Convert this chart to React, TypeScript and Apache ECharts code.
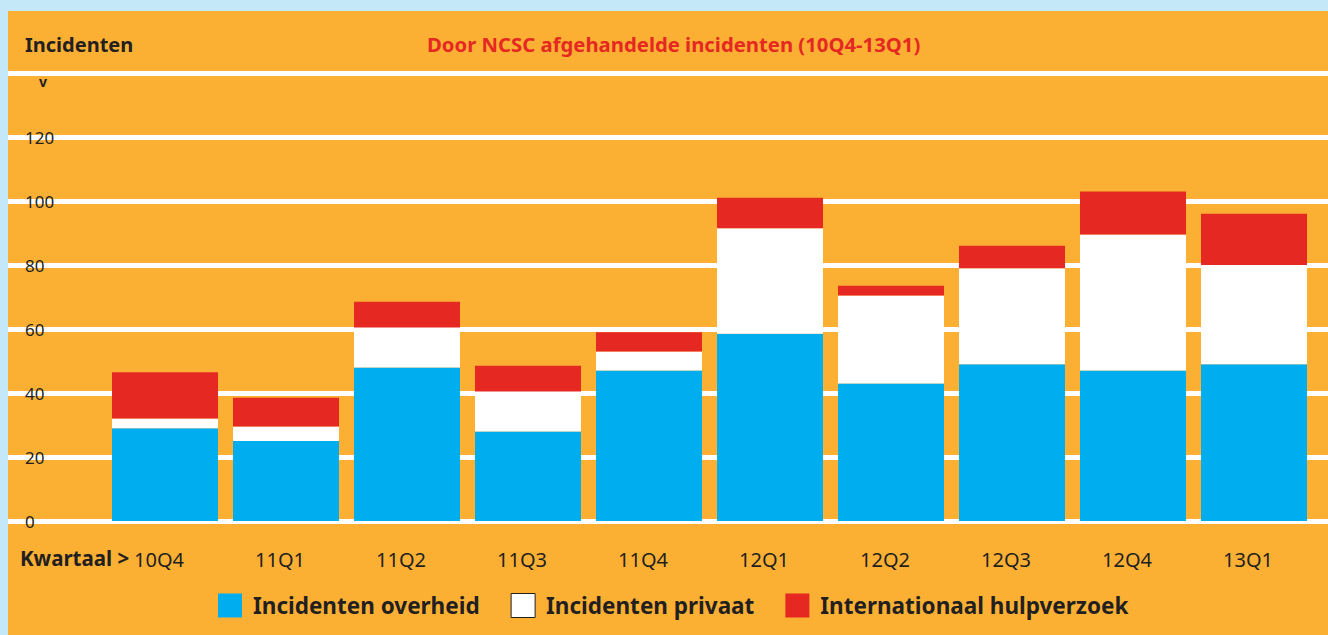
import React, { useEffect, useRef } from "react";
import * as echarts from "echarts";

const categories = ["10Q4", "11Q1", "11Q2", "11Q3", "11Q4", "12Q1", "12Q2", "12Q3", "12Q4", "13Q1"];
const overheid = [29, 25, 48, 28, 47, 58.5, 43, 49, 47, 49];
const privaat = [3, 4.5, 12.5, 12.5, 6, 33, 27.5, 30, 42.5, 31];
const hulpverzoek = [14.5, 9, 8, 8, 6, 9.5, 3, 7, 13.5, 16];
const seriesNames = ["Incidenten overheid", "Incidenten privaat", "Internationaal hulpverzoek"];
const yMin = 0;
const yMax = 140;
const yInterval = 20;

const ORANGE = "#FBB034";
const BLUE = "#00AEEF";
const RED = "#E62822";
const DARK = "#231F20";
const FONT = "'Noto Sans', sans-serif";

export default function App() {
  const ref = useRef<HTMLDivElement>(null);
  useEffect(() => {
    if (!ref.current) return;
    const chart = echarts.init(ref.current, undefined, { renderer: "svg" });
    chart.setOption({
      animation: false,
      backgroundColor: ORANGE,
      textStyle: { fontFamily: FONT },
      grid: [
        { left: 0, right: 0, top: 62, bottom: 114 },
        { left: 96.5, right: 13.5, top: 62, bottom: 114 },
      ],
      xAxis: [
        { type: "category", gridIndex: 0, data: categories, show: false },
        {
          type: "category",
          gridIndex: 1,
          data: categories,
          axisLine: { show: false },
          axisTick: { show: false },
          axisLabel: { color: DARK, fontSize: 20, margin: 28, fontFamily: FONT, padding: [0, 12, 0, 0] },
        },
      ],
      yAxis: [
        {
          type: "value",
          gridIndex: 0,
          min: yMin,
          max: yMax,
          interval: yInterval,
          axisLine: { show: false },
          axisTick: { show: false },
          splitLine: { show: true, lineStyle: { color: "#FFFFFF", width: 5 } },
          axisLabel: {
            inside: true,
            margin: 17,
            color: DARK,
            fontSize: 17,
            fontFamily: FONT,
            formatter: (v: number) => (v === yMax ? "" : String(v)),
          },
        },
        {
          type: "value",
          gridIndex: 1,
          min: yMin,
          max: yMax,
          interval: yInterval,
          show: false,
          splitLine: { show: false },
        },
      ],
      legend: {
        left: 205,
        top: 577,
        icon: "rect",
        itemWidth: 24,
        itemHeight: 24,
        itemGap: 31,
        textStyle: { color: DARK, fontSize: 22.5, fontWeight: "bold", fontFamily: FONT, padding: [0, 0, 0, 6] },
        data: [
          { name: seriesNames[0] },
          { name: seriesNames[1], itemStyle: { borderColor: DARK, borderWidth: 1 } },
          { name: seriesNames[2] },
        ],
      },
      series: [
        { name: seriesNames[0], type: "bar", stack: "t", xAxisIndex: 1, yAxisIndex: 1, data: overheid, itemStyle: { color: BLUE }, barCategoryGap: "12.4%" },
        { name: seriesNames[1], type: "bar", stack: "t", xAxisIndex: 1, yAxisIndex: 1, data: privaat, itemStyle: { color: "#FFFFFF" }, barCategoryGap: "12.4%" },
        { name: seriesNames[2], type: "bar", stack: "t", xAxisIndex: 1, yAxisIndex: 1, data: hulpverzoek, itemStyle: { color: RED }, barCategoryGap: "12.4%" },
      ],
      graphic: [
        { type: "text", left: 17, top: 23, style: { text: "Incidenten", font: `bold 20px ${FONT}`, fill: DARK } },
        { type: "text", left: 12, top: 536, style: { text: "Kwartaal >", font: `bold 20.5px ${FONT}`, fill: DARK } },
        { type: "text", left: 31, top: 63, style: { text: "v", font: `bold 14px ${FONT}`, fill: DARK } },
        {
          type: "text",
          left: 419,
          top: 23,
          style: { text: "Door NCSC afgehandelde incidenten (10Q4-13Q1)", font: `bold 20.3px ${FONT}`, fill: RED },
        },
      ],
    });
    return () => chart.dispose();
  }, []);
  return (
    <div style={{ position: "fixed", left: 0, top: 0, width: 1328, height: 635, background: "#C5E8F8" }}>
      <div ref={ref} style={{ position: "absolute", left: 8, top: 11, width: 1320, height: 624 }} />
    </div>
  );
}
